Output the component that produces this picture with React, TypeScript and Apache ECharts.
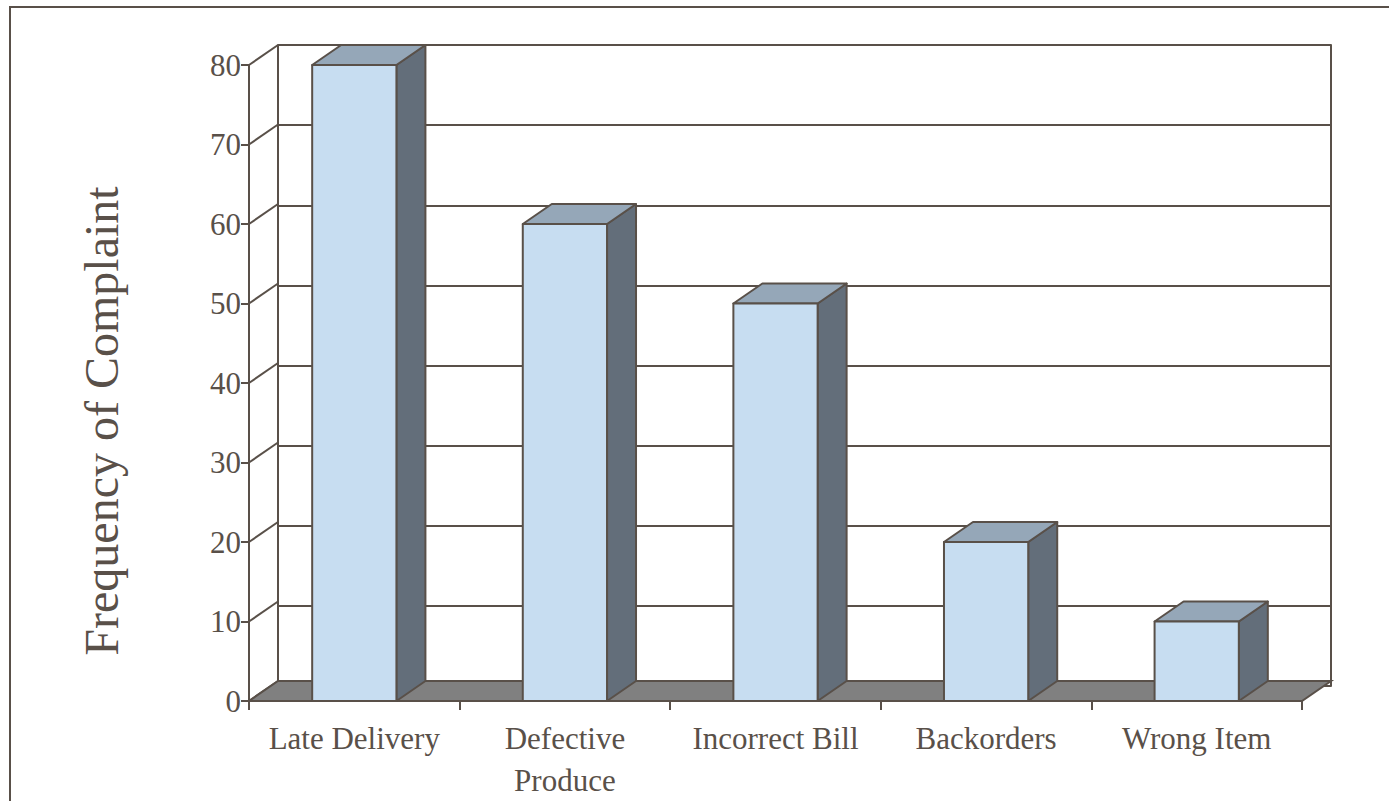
import React, { useEffect, useRef } from "react";
import * as echarts from "echarts";

// Complaint categories and how often each one was reported
const categories = [
  "Late Delivery",
  "Defective\nProduce",
  "Incorrect Bill",
  "Backorders",
  "Wrong Item",
];
const complaints = [80, 60, 50, 20, 10];

// Value axis range and tick step
const axisMin = 0;
const axisMax = 80;
const axisStep = 10;
const tickValues = [0, 10, 20, 30, 40, 50, 60, 70, 80];

const yTitle = "Frequency of Complaint";

const INK = "#595049";
const FONT = "Liberation Serif";
const DEPTH_X = 29;
const DEPTH_Y = -20;

export default function App() {
  const ref = useRef<HTMLDivElement>(null);

  useEffect(() => {
    if (!ref.current) return;
    const chart = echarts.init(ref.current, undefined, { renderer: "svg" });

    const frontGrid = { left: 249, top: 65, width: 1053, height: 641 };
    const backGrid = {
      left: 249 + DEPTH_X,
      top: 65 + DEPTH_Y,
      width: 1053,
      height: 641,
    };

    const option: any = {
      animation: false,
      backgroundColor: "#ffffff",
      textStyle: { fontFamily: FONT },
      grid: [frontGrid, backGrid],
      xAxis: [
        {
          type: "category",
          gridIndex: 0,
          data: categories,
          axisLine: { show: true, lineStyle: { color: INK, width: 2 } },
          axisTick: {
            show: true,
            interval: 0,
            length: 9,
            lineStyle: { color: INK, width: 2 },
          },
          axisLabel: {
            interval: 0,
            margin: 16,
            color: INK,
            fontFamily: FONT,
            fontSize: 31,
            lineHeight: 42,
          },
          splitLine: { show: false },
        },
        {
          type: "category",
          gridIndex: 1,
          data: categories,
          show: false,
        },
      ],
      yAxis: [
        {
          type: "value",
          gridIndex: 0,
          min: axisMin,
          max: axisMax,
          interval: axisStep,
          axisLine: { show: true, lineStyle: { color: INK, width: 2 } },
          axisTick: {
            show: true,
            length: 8,
            lineStyle: { color: INK, width: 2 },
          },
          axisLabel: {
            margin: 8,
            color: INK,
            fontFamily: FONT,
            fontSize: 31,
          },
          splitLine: { show: false },
        },
        {
          type: "value",
          gridIndex: 1,
          min: axisMin,
          max: axisMax,
          interval: axisStep,
          axisLine: { show: true, lineStyle: { color: INK, width: 2 } },
          axisTick: { show: false },
          axisLabel: { show: false },
          splitLine: { show: true, lineStyle: { color: INK, width: 2 } },
        },
        {
          type: "value",
          gridIndex: 1,
          position: "right",
          min: axisMin,
          max: axisMax,
          interval: axisStep,
          axisLine: { show: true, lineStyle: { color: INK, width: 2 } },
          axisTick: { show: false },
          axisLabel: { show: false },
          splitLine: { show: false },
        },
      ],
      graphic: [
        {
          type: "rect",
          shape: { x: 10, y: 7, width: 1420, height: 840 },
          style: { fill: "none", stroke: INK, lineWidth: 2 },
          silent: true,
        },
        {
          type: "text",
          x: 101,
          y: 421,
          rotation: Math.PI / 2,
          style: {
            text: yTitle,
            fill: INK,
            fontFamily: FONT,
            fontSize: 48,
            align: "center",
            verticalAlign: "middle",
          },
          silent: true,
        },
      ],
      series: [
        // Side wall: receding tick lines from the front axis to the back wall
        {
          type: "custom",
          xAxisIndex: 0,
          yAxisIndex: 0,
          silent: true,
          data: tickValues.map((v) => [0, v]),
          renderItem: (params: any, api: any) => {
            const y = api.coord([0, api.value(1)])[1];
            const x = params.coordSys.x;
            return {
              type: "line",
              shape: { x1: x, y1: y, x2: x + DEPTH_X, y2: y + DEPTH_Y },
              style: { stroke: INK, lineWidth: 2 },
            };
          },
          z: 1,
        },
        // Floor
        {
          type: "custom",
          xAxisIndex: 0,
          yAxisIndex: 0,
          silent: true,
          data: [[0, 0]],
          renderItem: (params: any, api: any) => {
            const cs = params.coordSys;
            const y0 = api.coord([0, axisMin])[1];
            const xl = cs.x;
            const xr = cs.x + cs.width;
            return {
              type: "polygon",
              shape: {
                points: [
                  [xl, y0],
                  [xr, y0],
                  [xr + DEPTH_X, y0 + DEPTH_Y],
                  [xl + DEPTH_X, y0 + DEPTH_Y],
                ],
              },
              style: { fill: "#808080", stroke: INK, lineWidth: 2 },
            };
          },
          z: 2,
        },
        // 3D columns
        {
          type: "custom",
          xAxisIndex: 0,
          yAxisIndex: 0,
          silent: true,
          data: complaints.map((v, i) => [i, v]),
          renderItem: (params: any, api: any) => {
            const i = api.value(0);
            const v = api.value(1);
            const top = api.coord([i, v]);
            const base = api.coord([i, axisMin]);
            const bw = api.size([1, 0])[0] * 0.4;
            const x0 = top[0] - bw / 2;
            const x1 = top[0] + bw / 2;
            const yt = top[1];
            const yb = base[1];
            const edge = { stroke: INK, lineWidth: 2, lineJoin: "round" };
            return {
              type: "group",
              children: [
                {
                  type: "polygon",
                  shape: {
                    points: [
                      [x1, yt],
                      [x1 + DEPTH_X, yt + DEPTH_Y],
                      [x1 + DEPTH_X, yb + DEPTH_Y],
                      [x1, yb],
                    ],
                  },
                  style: { fill: "#636e7a", ...edge },
                },
                {
                  type: "polygon",
                  shape: {
                    points: [
                      [x0, yt],
                      [x1, yt],
                      [x1 + DEPTH_X, yt + DEPTH_Y],
                      [x0 + DEPTH_X, yt + DEPTH_Y],
                    ],
                  },
                  style: { fill: "#95a7b8", ...edge },
                },
                {
                  type: "rect",
                  shape: { x: x0, y: yt, width: bw, height: yb - yt },
                  style: { fill: "#c7ddf1", ...edge },
                },
              ],
            };
          },
          z: 3,
        },
      ],
    };

    chart.setOption(option);
    return () => chart.dispose();
  }, []);

  return (
    <div
      ref={ref}
      style={{
        position: "fixed",
        left: 0,
        top: 0,
        width: 1389,
        height: 801,
        background: "#ffffff",
      }}
    />
  );
}
